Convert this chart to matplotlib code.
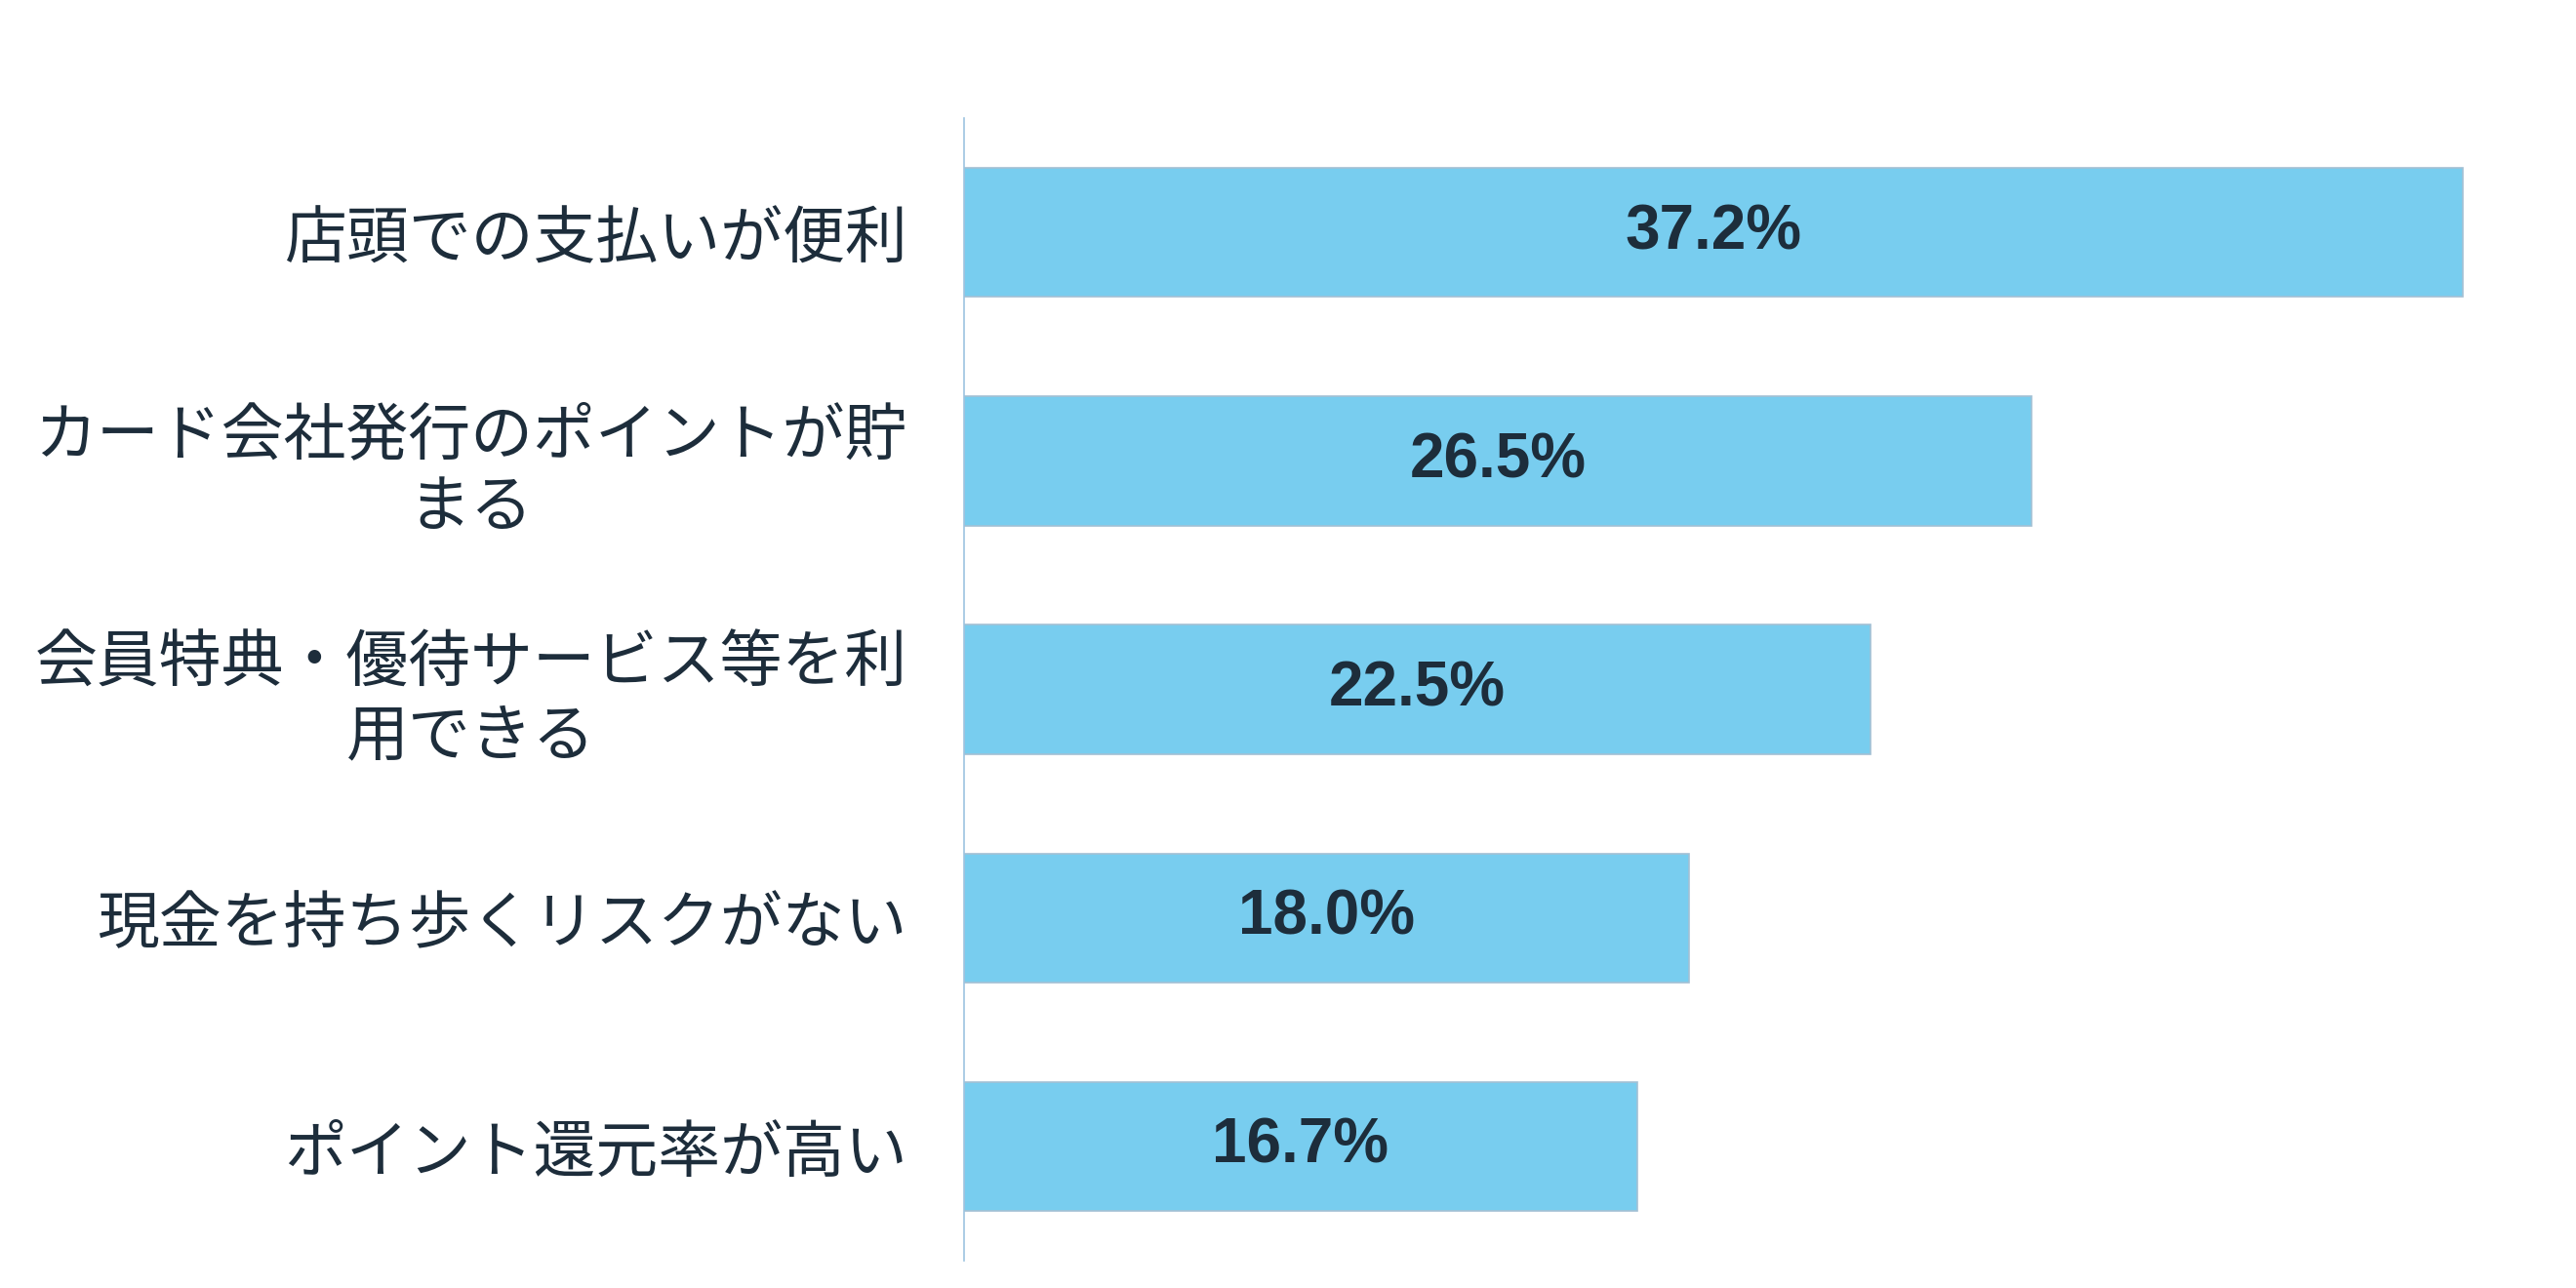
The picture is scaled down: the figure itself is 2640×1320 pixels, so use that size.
import matplotlib
matplotlib.use("Agg")
import matplotlib.pyplot as plt

plt.rcParams['font.family'] = ['Noto Sans CJK JP', 'DejaVu Sans']

categories = [
    "店頭での支払いが便利",
    "カード会社発行のポイントが貯\nまる",
    "会員特典・優待サービス等を利\n用できる",
    "現金を持ち歩くリスクがない",
    "ポイント還元率が高い",
]
values = [37.2, 26.5, 22.5, 18.0, 16.7]

text_color = "#1D2D3B"
bar_color = "#78CDEF"

fig = plt.figure(figsize=(13.2, 6.6), dpi=200)
ax = fig.add_axes([0.3742, 0.0212, 0.6258, 0.887])

ypos = list(range(len(categories)))
bars = ax.barh(ypos, values, height=0.565, color=bar_color,
               edgecolor="#A3C0D4", linewidth=0.6)

for b, v in zip(bars, values):
    ax.text(b.get_width() / 2, b.get_y() + b.get_height() / 2, f"{v:.1f}%",
            ha="center", va="center", fontsize=23, fontweight="bold",
            family="Liberation Sans", color=text_color)

ax.set_ylim(len(categories) - 0.5, -0.5)
ax.set_xlim(0, 40.0)
ax.set_yticks(ypos)
ax.set_yticklabels(categories, fontsize=23, color=text_color)
for lab in ax.get_yticklabels():
    lab.set_multialignment("center")
    lab.set_linespacing(1.15)
ax.tick_params(axis="y", length=0, pad=21)
ax.set_xticks([])

for s in ["top", "right", "bottom"]:
    ax.spines[s].set_visible(False)
ax.spines["left"].set_color("#9DC3E0")
ax.spines["left"].set_linewidth(0.6)

fig.savefig("out.png", dpi=200, facecolor="white")
